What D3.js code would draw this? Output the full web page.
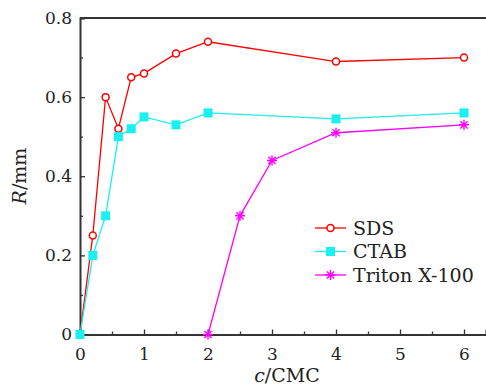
<!DOCTYPE html>
<html>
<head>
<meta charset="utf-8">
<script src="https://cdn.jsdelivr.net/npm/d3@7"></script>
<style>
  body { margin: 0; background: #fff; }
  svg text { font-family: "DejaVu Serif", serif; fill: #222; }
</style>
</head>
<body>
<div id="chart"></div>
<script>
// data
const sdsX = [0, 0.2, 0.4, 0.6, 0.8, 1, 1.5, 2, 4, 6];
const sdsR = [0, 0.25, 0.6, 0.52, 0.65, 0.66, 0.71, 0.74, 0.69, 0.70];
const ctabX = [0, 0.2, 0.4, 0.6, 0.8, 1, 1.5, 2, 4, 6];
const ctabR = [0, 0.2, 0.3, 0.5, 0.52, 0.55, 0.53, 0.56, 0.545, 0.56];
const tritonX = [2, 2.5, 3, 4, 6];
const tritonR = [0, 0.3, 0.44, 0.51, 0.53];
const seriesNames = ["SDS", "CTAB", "Triton X-100"];
const xTicks = [0, 1, 2, 3, 4, 5, 6];
const yTicks = [0, 0.2, 0.4, 0.6, 0.8];

const W = 486, H = 387;
const margin = { top: 18, right: 0, bottom: 52.5, left: 80 };
const width = W - margin.left - margin.right;
const height = H - margin.top - margin.bottom;

const svg = d3.select("#chart").append("svg")
  .attr("width", W).attr("height", H);
const g = svg.append("g")
  .attr("transform", `translate(${margin.left},${margin.top})`);

const x = d3.scaleLinear().domain([0, width / 64]).range([0, width]);
const y = d3.scaleLinear().domain([0, 0.8]).range([height, 0]);

const axisColor = "#333";

// minor ticks
g.append("g")
  .attr("transform", `translate(0,${height})`)
  .call(d3.axisBottom(x).tickValues(d3.range(0.5, 6.5, 1)).tickSize(-3).tickFormat(""))
  .call(s => s.select(".domain").remove())
  .selectAll("line").attr("stroke", axisColor).attr("stroke-width", 1.3);
g.append("g")
  .call(d3.axisLeft(y).tickValues([0.1, 0.3, 0.5, 0.7]).tickSize(-3).tickFormat(""))
  .call(s => s.select(".domain").remove())
  .selectAll("line").attr("stroke", axisColor).attr("stroke-width", 1.3);

// major axes
const xAxis = g.append("g")
  .attr("transform", `translate(0,${height})`)
  .call(d3.axisBottom(x).tickValues(xTicks).tickSize(-5).tickPadding(10).tickFormat(d3.format("d")));
const yAxis = g.append("g")
  .call(d3.axisLeft(y).tickValues(yTicks).tickSize(-5).tickPadding(8).tickFormat(d => d === 0 ? "0" : d3.format(".1f")(d)));

[xAxis, yAxis].forEach(a => {
  a.select(".domain").attr("stroke", axisColor).attr("stroke-width", 2);
  a.selectAll(".tick line").attr("stroke", axisColor).attr("stroke-width", 1.3);
  a.selectAll(".tick text").attr("font-size", 17).attr("fill", "#222")
    .style("font-family", '"DejaVu Serif", serif');
});
xAxis.selectAll(".tick text").attr("dy", "0.9em");

// top frame line
g.append("line")
  .attr("x1", 0).attr("x2", width).attr("y1", 0).attr("y2", 0)
  .attr("stroke", axisColor).attr("stroke-width", 2);

// series
const series = [
  { name: seriesNames[0], xs: sdsX, ys: sdsR, color: "#ff0000", marker: "circle" },
  { name: seriesNames[1], xs: ctabX, ys: ctabR, color: "#19f0f0", marker: "square" },
  { name: seriesNames[2], xs: tritonX, ys: tritonR, color: "#ff00ff", marker: "star" }
];

const line = d3.line().x(d => x(d[0])).y(d => y(d[1]));

function drawMarker(sel, type, color) {
  if (type === "circle") {
    sel.append("circle").attr("r", 3.5)
      .attr("fill", "#fff").attr("stroke", color).attr("stroke-width", 1.5);
  } else if (type === "square") {
    sel.append("rect").attr("x", -4.5).attr("y", -4.5).attr("width", 9).attr("height", 9)
      .attr("fill", color);
  } else {
    const r = 5;
    const p = `M${-r},0L${r},0M0,${-r}L0,${r}M${-r * 0.72},${-r * 0.72}L${r * 0.72},${r * 0.72}M${-r * 0.72},${r * 0.72}L${r * 0.72},${-r * 0.72}`;
    sel.append("path").attr("d", p).attr("stroke", color).attr("stroke-width", 1.4).attr("fill", "none");
  }
}

series.forEach(s => {
  const pts = s.xs.map((v, i) => [v, s.ys[i]]);
  g.append("path").datum(pts)
    .attr("d", line)
    .attr("fill", "none")
    .attr("stroke", s.color)
    .attr("stroke-width", 1.3);
  g.selectAll(null).data(pts).enter().append("g")
    .attr("transform", d => `translate(${x(d[0])},${y(d[1])})`)
    .each(function () { drawMarker(d3.select(this), s.marker, s.color); });
});

// legend
const legend = svg.append("g").attr("transform", "translate(315,228)");
series.forEach((s, i) => {
  const row = legend.append("g").attr("transform", `translate(0,${i * 23.5})`);
  row.append("line").attr("x1", 0).attr("x2", 31).attr("y1", 0).attr("y2", 0)
    .attr("stroke", s.color).attr("stroke-width", 1.3);
  drawMarker(row.append("g").attr("transform", "translate(15.5,0)"), s.marker, s.color);
  row.append("text").attr("x", 38).attr("y", 0).attr("dy", "0.35em")
    .attr("font-size", 19).text(s.name);
});

// axis titles
svg.append("text")
  .attr("x", 287).attr("y", 382)
  .attr("text-anchor", "middle").attr("font-size", 19)
  .call(t => {
    t.append("tspan").attr("font-style", "italic").text("c");
    t.append("tspan").text("/CMC");
  });

svg.append("text")
  .attr("transform", "translate(26,176) rotate(-90)")
  .attr("text-anchor", "middle").attr("font-size", 19)
  .call(t => {
    t.append("tspan").attr("font-style", "italic").text("R");
    t.append("tspan").text("/mm");
  });
</script>
</body>
</html>
